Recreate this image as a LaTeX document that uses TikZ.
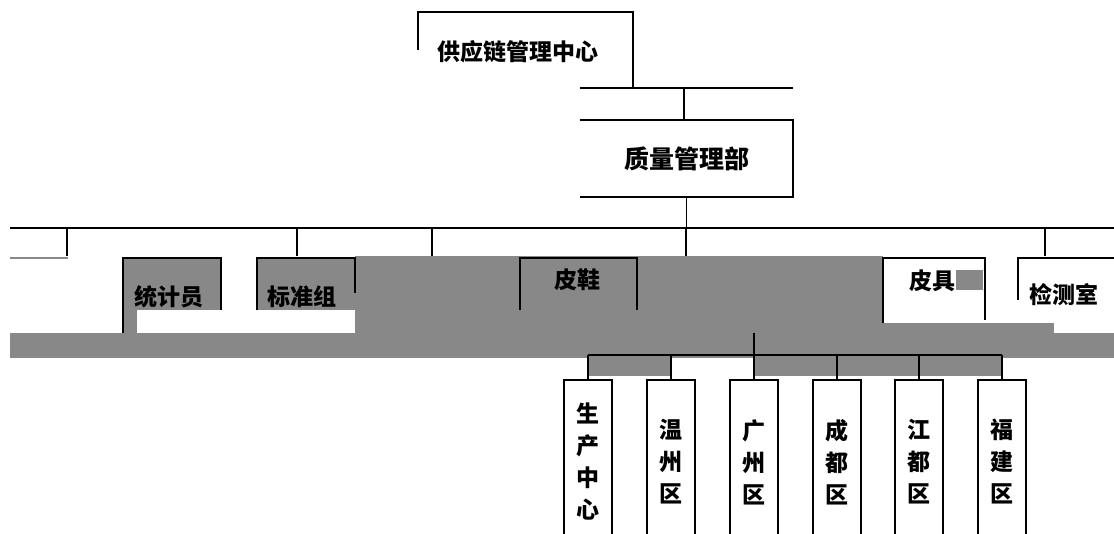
\documentclass[tikz,border=0pt]{standalone}
\usepackage{fontspec}
\newfontfamily\cjk{Noto Sans CJK SC}
\definecolor{grayband}{RGB}{136,136,136}
\begin{document}
\begin{tikzpicture}[x=1pt,y=-1pt,
  lbl/.style={font=\cjk\bfseries\fontsize{23}{26}\selectfont, inner sep=0pt},
  vbox/.style={draw, line width=1.8pt, minimum width=48pt, minimum height=164pt, inner sep=0pt, align=center, anchor=north, font=\cjk\bfseries\fontsize{23}{32}\selectfont},
  edge/.style={line width=1.8pt},
  conn/.style={line width=1.2pt},
  grayfill/.style={fill=grayband, draw=none}]
\useasboundingbox (0,0) rectangle (1114,533);
\clip (0,0) rectangle (1114,533);
% gray areas
\fill[grayfill] (123,258) rectangle (221,310);
\fill[grayfill] (123,310) rectangle (137,333);
\fill[grayfill] (257,258) rectangle (355,310);
\fill[grayfill] (355,256) rectangle (520,333);
\fill[grayfill] (520,256) rectangle (883,333);
\fill[grayfill] (883,323) rectangle (1054,333);
\fill[grayfill] (956,270) rectangle (983,290);
\fill[grayfill] (10,333) rectangle (1114,358);
\fill[grayfill] (588,358) rectangle (671,376);
\fill[grayfill] (754,358) rectangle (1003,376);
% top
\node[lbl] (top) at (518,52) {供应链管理中心};
\draw[edge] (418,50) |- (633,12) -- (633,88);
\coordinate (topbarL) at (580,88);
\coordinate (topbarR) at (793,88);
\coordinate (topbar) at (684,88);
\draw[edge] (topbarL) -- (topbarR);
\node[lbl, font=\cjk\bfseries\fontsize{25}{28}\selectfont, minimum width=213pt, minimum height=77pt] (qm) at (686.5,158.5) {质量管理部};
\draw[edge] (qm.north west) -- (qm.north east) -- (qm.south east) -- (qm.south west);
\draw[conn] (topbar) -- (topbar |- qm.north);
% bus
\coordinate (busL) at (10,228);
\coordinate (busR) at (1114,228);
\draw[conn] (qm.south) -- (qm.south |- busL);
\draw[conn] (busL) -- (busR);
\foreach \x/\n in {67/a,297/b,432/c,686/d,1045/e}{
  \coordinate (drop\n) at (\x,256);
  \draw[conn] (\x,228) -- (drop\n);
}
% second level
\draw[line width=1.5pt, grayband] (10,258) -- (68,258);
\node[lbl] (tj) at (169,297) {统计员};
\draw[edge] (123,333) -- (123,258) -- (221,258) -- (221,310);
\node[lbl] (bz) at (302,297) {标准组};
\draw[edge] (257,310) |- (355,258) -- (355,293);
\node[lbl] (px) at (577,280) {皮鞋};
\draw[edge] (520,310) |- (637,258) -- (637,310);
\node[lbl] (pj) at (932,281) {皮具};
\draw[edge] (883,323) |- (985,258) -- (985,320);
\node[lbl] (jc) at (1064,295) {检测室};
\draw[edge] (1018,300) |- (1114,258);
% third level
\coordinate (subtop) at (754,333);
\coordinate (sub) at (754,355);
\draw[conn] (subtop) -- (sub);
\draw[conn] (588,355) -- (1002,355);
\foreach \x/\n/\t in {588/s1/{生\\产\\中\\心},671/s2/{温\\州\\区},754/s3/{广\\州\\区},837/s4/{成\\都\\区},919/s5/{江\\都\\区},1002/s6/{福\\建\\区}}{
  \node[vbox] (\n) at (\x,379) {\t};
  \draw[conn] (\x,355) -- (\n.north);
}
\end{tikzpicture}
\end{document}
